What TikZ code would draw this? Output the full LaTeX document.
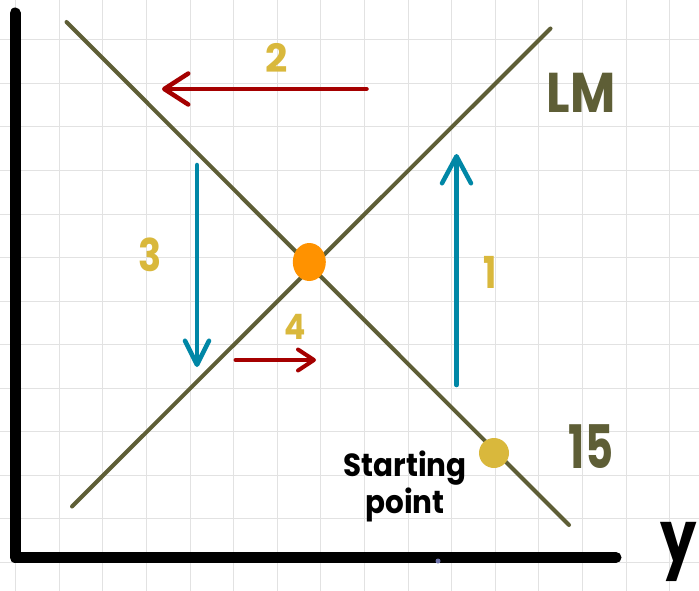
\documentclass[tikz,border=0pt]{standalone}
\usepackage{fontspec}
\setmainfont{Poppins}
\usepackage{graphicx}
\usepackage{tikz,xcolor}
\usetikzlibrary{arrows.meta}

\definecolor{curveolive}{RGB}{94,94,54}
\definecolor{shiftred}{RGB}{165,0,0}
\definecolor{shiftblue}{RGB}{0,135,166}
\definecolor{stepyellow}{RGB}{217,184,60}
\definecolor{eqorange}{RGB}{255,146,0}
\definecolor{gridgray}{RGB}{226,226,226}
\definecolor{specdot}{RGB}{110,115,170}

\tikzset{
  curve/.style={curveolive, line width=4pt, line cap=round},
  shiftline/.style={line width=4.5pt, line cap=round},
  steplabel/.style={stepyellow, inner sep=0pt},
}

\begin{document}
\begin{tikzpicture}[x=1pt,y=-1pt]
\useasboundingbox (0,0) rectangle (699,591);
\fill[white] (0,0) rectangle (699,591);
% Draw the light grid
\foreach \k in {0,...,15}
  \draw[gridgray, line width=1pt] ({15.7+43.6*\k},0) -- ({15.7+43.6*\k},591);
\foreach \k in {1,...,13}
  \draw[gridgray, line width=1pt] (0,{-3.5+43.5*\k}) -- (699,{-3.5+43.5*\k});

% Draw the two curves
\coordinate (is top) at (66.5,22);
\coordinate (is end) at (569,525);
\coordinate (lm start) at (72,506.5);
\coordinate (lm top) at (550.5,28.5);
\draw[curve] (is top) -- (is end);
\draw[curve] (lm start) -- (lm top);

% Draw the shift arrows
\coordinate (a1 from) at (456.5,385);
\coordinate (a1 to) at (456.5,154);
\draw[shiftline, shiftblue, -{Straight Barb[length=27pt, width=29pt, round]}] (a1 from) -- (a1 to);
\coordinate (a2 from) at (366.5,89);
\coordinate (a2 to) at (162,89);
\draw[shiftline, shiftred, -{Straight Barb[length=24pt, width=31pt, round]}] (a2 from) -- (a2 to);
\coordinate (a3 from) at (197,165);
\coordinate (a3 to) at (197,367);
\draw[shiftline, shiftblue, -{Straight Barb[length=24pt, width=24pt, round]}] (a3 from) -- (a3 to);
\coordinate (a4 from) at (235.5,360);
\coordinate (a4 to) at (316,360);
\draw[shiftline, shiftred, line width=4pt, -{Straight Barb[length=16pt, width=21pt, round]}] (a4 from) -- (a4 to);

% Draw the equilibrium points
\fill[eqorange] (309.3,262) ellipse [x radius=16.5, y radius=19];
\fill[stepyellow] (494,453) circle (15);

% Draw the axes
\draw[black, line width=11pt, line cap=round, line join=round] (15,13) -- (15,557.5) -- (616,557.5);
\fill[specdot] (438,561) circle (2.5);

% Labels
\node[steplabel, font=\fontsize{44}{44}\selectfont\bfseries] (step1) at (490,272) {\scalebox{0.8}[1]{1}};
\node[steplabel, font=\fontsize{39}{39}\selectfont\bfseries] (step2) at (277,58) {2};
\node[steplabel, font=\fontsize{45}{45}\selectfont\bfseries] (step3) at (150,255) {\scalebox{0.85}[1]{3}};
\node[steplabel, font=\fontsize{35}{35}\selectfont\bfseries] (step4) at (295,327) {\scalebox{0.9}[1]{4}};
\node[curveolive, inner sep=0pt, font=\fontsize{56}{56}\selectfont\bfseries] (lmlabel) at (581,93) {\scalebox{0.88}[1]{LM}};
\node[curveolive, inner sep=0pt, font=\fontsize{60}{60}\selectfont\bfseries] (islabel) at (591,447) {\scalebox{0.72}[1]{15}};
\node[black, inner sep=0pt, align=center, font=\fontsize{32}{37}\selectfont\bfseries] (startlabel) at (405,486.5) {\scalebox{0.92}[1]{Starting}\\\scalebox{0.92}[1]{point}};
\node[black, inner sep=0pt, font=\fontsize{72}{72}\selectfont\bfseries] (ylabel) at (679,552) {\scalebox{0.8}[1]{y}};
\end{tikzpicture}
\end{document}
